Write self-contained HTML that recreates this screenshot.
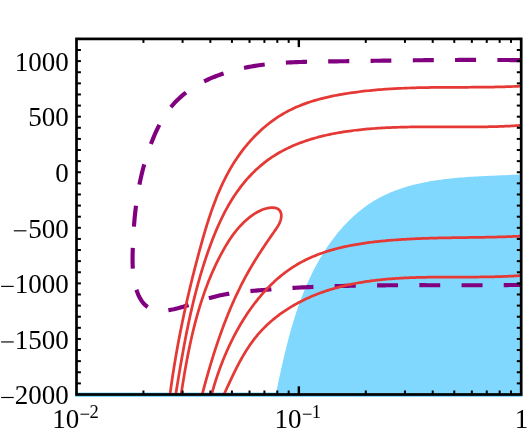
<!DOCTYPE html>
<html><head><meta charset="utf-8"><title>plot</title>
<style>html,body{margin:0;padding:0;background:#fff;width:529px;height:437px;overflow:hidden;font-family:"Liberation Serif",serif;}svg{display:block;position:absolute;left:0;top:0}</style></head>
<body>
<svg width="529" height="437" viewBox="0 0 529 437">
<rect width="529" height="437" fill="#fff"/>
<defs><clipPath id="cp"><rect x="76.50" y="38.90" width="444.70" height="355.60"/></clipPath></defs>
<rect x="75.30" y="392.5" width="447.10" height="4.5" fill="#80D8FF"/>
<g clip-path="url(#cp)">
<path d="M275.71,394.44 L276.19,392.18 L276.66,389.91 L277.14,387.64 L277.63,385.37 L278.11,383.09 L278.60,380.80 L279.09,378.52 L279.59,376.23 L280.09,373.93 L280.59,371.63 L281.10,369.33 L281.61,367.03 L282.13,364.73 L282.66,362.42 L283.19,360.12 L283.73,357.81 L284.27,355.50 L284.83,353.19 L285.39,350.88 L285.95,348.57 L286.53,346.26 L287.12,343.95 L287.71,341.64 L288.32,339.33 L288.93,337.03 L289.56,334.72 L290.19,332.42 L290.84,330.12 L291.49,327.82 L292.16,325.53 L292.84,323.24 L293.54,320.95 L294.24,318.67 L294.96,316.39 L295.70,314.11 L296.44,311.84 L297.20,309.58 L297.98,307.32 L298.77,305.06 L299.58,302.81 L300.40,300.57 L301.23,298.33 L302.09,296.10 L302.96,293.88 L303.84,291.66 L304.75,289.46 L305.67,287.26 L306.61,285.06 L307.57,282.88 L308.55,280.71 L309.55,278.54 L310.56,276.39 L311.60,274.24 L312.66,272.10 L313.73,269.98 L314.83,267.86 L315.95,265.76 L317.09,263.66 L318.26,261.58 L319.44,259.51 L320.65,257.45 L321.88,255.40 L323.14,253.37 L324.42,251.35 L325.72,249.34 L327.05,247.35 L328.40,245.37 L329.77,243.41 L331.17,241.46 L332.59,239.54 L334.04,237.63 L335.51,235.74 L337.00,233.87 L338.52,232.03 L340.06,230.20 L341.62,228.40 L343.21,226.62 L344.82,224.87 L346.45,223.15 L348.11,221.45 L349.79,219.78 L351.49,218.13 L353.22,216.52 L354.97,214.94 L356.74,213.39 L358.53,211.87 L360.35,210.38 L362.19,208.93 L364.05,207.51 L365.94,206.13 L367.85,204.78 L369.78,203.47 L371.73,202.20 L373.71,200.97 L375.71,199.78 L377.73,198.63 L379.77,197.52 L381.83,196.45 L383.91,195.41 L386.02,194.41 L388.14,193.45 L390.28,192.53 L392.44,191.64 L394.61,190.78 L396.80,189.96 L399.01,189.16 L401.24,188.40 L403.47,187.68 L405.73,186.98 L408.00,186.31 L410.28,185.67 L412.57,185.06 L414.87,184.48 L417.19,183.92 L419.52,183.39 L421.85,182.88 L424.20,182.40 L426.56,181.94 L428.92,181.50 L431.29,181.09 L433.67,180.70 L436.06,180.33 L438.45,179.97 L440.85,179.64 L443.26,179.33 L445.66,179.03 L448.07,178.75 L450.49,178.49 L452.91,178.24 L455.33,178.01 L457.75,177.79 L460.17,177.58 L462.59,177.39 L465.01,177.20 L467.43,177.03 L469.85,176.87 L472.27,176.72 L474.68,176.57 L477.09,176.44 L479.50,176.31 L481.90,176.19 L484.30,176.07 L486.69,175.96 L489.08,175.85 L491.46,175.75 L493.83,175.64 L496.19,175.54 L498.54,175.45 L500.89,175.35 L503.23,175.25 L505.55,175.15 L507.87,175.05 L510.17,174.94 L512.46,174.84 L514.74,174.73 L517.00,174.61 L519.25,174.49 L521.49,174.36 L523.71,174.22 L524,397 L275.80,397 Z" fill="#80D8FF"/>
<path d="M524.06,60.21 L522.14,60.18 L520.21,60.16 L518.28,60.13 L516.36,60.11 L514.44,60.09 L512.51,60.07 L510.59,60.06 L508.67,60.04 L506.74,60.02 L504.82,60.01 L502.90,59.99 L500.98,59.98 L499.06,59.97 L497.38,59.96" fill="none" stroke="#800080" stroke-width="4.15"/>
<path d="M476.07,59.91 L474.15,59.91 L472.24,59.91 L470.33,59.91 L468.42,59.92 L466.50,59.92 L464.59,59.93 L462.68,59.93 L460.77,59.94 L458.86,59.94 L456.95,59.95 L455.04,59.96 L455.04,59.96" fill="none" stroke="#800080" stroke-width="4.15"/>
<path d="M433.80,60.10 L431.90,60.12 L429.99,60.13 L428.08,60.15 L426.17,60.17 L424.27,60.19 L422.36,60.20 L420.45,60.22 L418.54,60.24 L416.64,60.26 L414.73,60.28 L412.82,60.31 L412.82,60.31" fill="none" stroke="#800080" stroke-width="4.15"/>
<path d="M391.35,60.57 L389.45,60.59 L387.54,60.62 L385.63,60.64 L383.72,60.67 L381.81,60.69 L379.90,60.72 L377.99,60.74 L376.08,60.77 L374.16,60.80 L372.25,60.82 L370.58,60.85" fill="none" stroke="#800080" stroke-width="4.15"/>
<path d="M349.29,61.15 L347.37,61.17 L345.46,61.20 L343.54,61.23 L341.62,61.25 L339.70,61.28 L337.78,61.31 L335.86,61.33 L333.94,61.36 L332.02,61.38 L330.10,61.41 L328.18,61.44 L328.18,61.44" fill="none" stroke="#800080" stroke-width="4.15"/>
<path d="M307.01,61.79 L305.09,61.84 L303.17,61.89 L301.25,61.95 L299.32,62.01 L297.40,62.08 L295.48,62.16 L293.56,62.24 L291.65,62.33 L289.73,62.42 L287.81,62.53 L285.90,62.64 L285.90,62.64" fill="none" stroke="#800080" stroke-width="4.15"/>
<path d="M264.72,64.52 L262.83,64.76 L260.94,65.01 L259.05,65.27 L257.17,65.55 L255.29,65.84 L253.41,66.15 L251.54,66.47 L249.67,66.81 L247.80,67.16 L245.94,67.53 L244.07,67.91 L244.07,67.91" fill="none" stroke="#800080" stroke-width="4.15"/>
<path d="M223.62,73.42 L221.81,74.04 L220.00,74.67 L218.20,75.33 L216.40,76.01 L214.62,76.72 L212.84,77.44 L211.07,78.19 L209.31,78.96 L207.56,79.76 L205.83,80.58 L204.11,81.42 L204.11,81.42" fill="none" stroke="#800080" stroke-width="4.15"/>
<path d="M186.06,92.54 L184.56,93.71 L183.08,94.90 L181.63,96.12 L180.21,97.37 L178.81,98.65 L177.44,99.96 L176.09,101.29 L174.78,102.66 L173.49,104.06 L172.24,105.49 L171.02,106.95 L170.87,107.14" fill="none" stroke="#800080" stroke-width="4.15"/>
<path d="M159.36,124.93 L158.47,126.67 L157.60,128.42 L156.76,130.18 L155.94,131.95 L155.13,133.73 L154.35,135.52 L153.59,137.32 L152.85,139.12 L152.12,140.93 L151.41,142.74 L150.89,144.10" fill="none" stroke="#800080" stroke-width="4.15"/>
<path d="M144.24,164.35 L143.74,166.18 L143.24,168.01 L142.77,169.85 L142.30,171.68 L141.85,173.52 L141.42,175.36 L140.99,177.20 L140.58,179.04 L140.18,180.89 L139.80,182.73 L139.43,184.58 L139.43,184.58" fill="none" stroke="#800080" stroke-width="4.15"/>
<path d="M136.00,205.79 L135.77,207.67 L135.54,209.56 L135.33,211.44 L135.12,213.33 L134.92,215.22 L134.74,217.12 L134.56,219.02 L134.39,220.92 L134.23,222.83 L134.07,224.74 L133.93,226.65 L133.93,226.65" fill="none" stroke="#800080" stroke-width="4.15"/>
<path d="M132.80,247.91 L132.74,249.87 L132.68,251.83 L132.63,253.79 L132.59,255.75 L132.57,257.71 L132.56,259.68 L132.58,261.64 L132.61,263.60 L132.67,265.55 L132.75,267.50 L132.82,268.72" fill="none" stroke="#800080" stroke-width="4.15"/>
<path d="M136.44,289.73 L137.05,291.53 L137.72,293.31 L138.45,295.07 L139.25,296.78 L140.12,298.43 L141.06,300.01 L142.08,301.52 L143.18,302.93 L144.36,304.23 L145.64,305.42 L147.01,306.48 L147.72,306.95" fill="none" stroke="#800080" stroke-width="4.15"/>
<path d="M168.36,310.14 L170.20,309.88 L172.06,309.57 L173.92,309.20 L175.79,308.78 L177.68,308.32 L179.57,307.81 L181.47,307.27 L183.38,306.70 L185.29,306.10 L187.21,305.48 L188.65,305.00" fill="none" stroke="#800080" stroke-width="4.15"/>
<path d="M208.89,298.21 L210.81,297.66 L212.72,297.14 L214.63,296.65 L216.53,296.19 L218.43,295.75 L220.33,295.34 L222.22,294.95 L224.11,294.58 L226.00,294.24 L227.89,293.91 L229.30,293.68" fill="none" stroke="#800080" stroke-width="4.15"/>
<path d="M250.43,291.12 L252.30,290.94 L254.18,290.77 L256.07,290.60 L257.95,290.43 L259.83,290.26 L261.71,290.10 L263.60,289.95 L265.49,289.79 L267.37,289.64 L269.26,289.49 L271.15,289.35 L271.39,289.33" fill="none" stroke="#800080" stroke-width="4.15"/>
<path d="M292.47,287.94 L294.37,287.83 L296.27,287.73 L298.17,287.63 L300.07,287.53 L301.97,287.43 L303.88,287.34 L305.78,287.25 L307.69,287.16 L309.59,287.07 L311.50,286.99 L313.41,286.91 L313.41,286.91" fill="none" stroke="#800080" stroke-width="4.15"/>
<path d="M334.66,286.16 L336.57,286.11 L338.49,286.06 L340.40,286.01 L342.32,285.96 L344.23,285.91 L346.15,285.87 L348.07,285.83 L349.98,285.78 L351.90,285.75 L353.82,285.71 L355.73,285.67 L355.73,285.67" fill="none" stroke="#800080" stroke-width="4.15"/>
<path d="M377.09,285.38 L379.01,285.36 L380.93,285.34 L382.85,285.33 L384.77,285.31 L386.69,285.30 L388.61,285.28 L390.53,285.27 L392.45,285.26 L394.38,285.25 L396.30,285.24 L397.98,285.24" fill="none" stroke="#800080" stroke-width="4.15"/>
<path d="M419.35,285.19 L421.27,285.19 L423.19,285.19 L425.11,285.19 L427.03,285.20 L428.95,285.20 L430.87,285.20 L432.79,285.20 L434.71,285.20 L436.63,285.20 L438.54,285.21 L440.22,285.21" fill="none" stroke="#800080" stroke-width="4.15"/>
<path d="M461.54,285.23 L463.45,285.23 L465.36,285.23 L467.27,285.23 L469.19,285.23 L471.10,285.23 L473.01,285.22 L474.92,285.22 L476.83,285.22 L478.74,285.22 L480.64,285.21 L482.55,285.21 L482.55,285.21" fill="none" stroke="#800080" stroke-width="4.15"/>
<path d="M503.73,285.10 L505.63,285.08 L507.53,285.06 L509.42,285.04 L511.32,285.02 L513.22,285.00 L515.11,284.98 L517.00,284.96 L518.90,284.93 L520.79,284.90 L522.68,284.88 L523.86,284.86" fill="none" stroke="#800080" stroke-width="4.15"/>
<path d="M169.27,400.16 L169.55,397.96 L169.84,395.78 L170.13,393.59 L170.42,391.41 L170.72,389.23 L171.03,387.05 L171.34,384.88 L171.65,382.71 L171.97,380.54 L172.29,378.38 L172.61,376.22 L172.94,374.06 L173.28,371.90 L173.62,369.75 L173.96,367.60 L174.31,365.45 L174.66,363.30 L175.02,361.16 L175.38,359.02 L175.74,356.88 L176.11,354.75 L176.49,352.61 L176.86,350.48 L177.25,348.35 L177.63,346.22 L178.02,344.10 L178.42,341.97 L178.82,339.85 L179.22,337.73 L179.63,335.61 L180.04,333.49 L180.46,331.38 L180.88,329.26 L181.30,327.15 L181.73,325.04 L182.16,322.93 L182.60,320.82 L183.04,318.71 L183.48,316.60 L183.93,314.49 L184.39,312.39 L184.84,310.29 L185.30,308.18 L185.77,306.08 L186.24,303.98 L186.71,301.88 L187.19,299.78 L187.67,297.68 L188.16,295.58 L188.65,293.48 L189.14,291.38 L189.64,289.28 L190.14,287.18 L190.65,285.08 L191.16,282.99 L191.67,280.89 L192.19,278.79 L192.71,276.69 L193.23,274.59 L193.76,272.49 L194.30,270.40 L194.83,268.30 L195.38,266.20 L195.92,264.10 L196.47,262.00 L197.02,259.90 L197.58,257.79 L198.14,255.69 L198.70,253.59 L199.27,251.48 L199.84,249.38 L200.42,247.27 L201.00,245.17 L201.59,243.06 L202.18,240.95 L202.77,238.85 L203.37,236.74 L203.98,234.64 L204.60,232.54 L205.22,230.44 L205.85,228.34 L206.49,226.24 L207.14,224.15 L207.80,222.06 L208.47,219.97 L209.14,217.89 L209.83,215.81 L210.53,213.74 L211.24,211.67 L211.97,209.61 L212.70,207.55 L213.45,205.50 L214.21,203.45 L214.98,201.42 L215.77,199.38 L216.58,197.36 L217.40,195.34 L218.23,193.34 L219.08,191.34 L219.95,189.34 L220.83,187.36 L221.73,185.39 L222.65,183.43 L223.58,181.47 L224.54,179.53 L225.51,177.60 L226.51,175.68 L227.52,173.77 L228.55,171.87 L229.61,169.98 L230.69,168.11 L231.78,166.25 L232.90,164.40 L234.04,162.57 L235.21,160.75 L236.40,158.94 L237.61,157.15 L238.85,155.38 L240.11,153.62 L241.39,151.87 L242.70,150.15 L244.03,148.44 L245.38,146.75 L246.75,145.07 L248.15,143.42 L249.57,141.79 L251.01,140.18 L252.48,138.58 L253.96,137.01 L255.47,135.47 L257.00,133.94 L258.55,132.44 L260.12,130.96 L261.72,129.51 L263.33,128.08 L264.97,126.68 L266.62,125.31 L268.30,123.96 L270.00,122.64 L271.71,121.35 L273.45,120.08 L275.21,118.85 L276.98,117.65 L278.78,116.47 L280.60,115.33 L282.43,114.22 L284.29,113.14 L286.16,112.10 L288.05,111.08 L289.96,110.10 L291.89,109.16 L293.84,108.24 L295.80,107.36 L297.78,106.50 L299.77,105.68 L301.78,104.88 L303.80,104.12 L305.83,103.38 L307.88,102.66 L309.94,101.98 L312.01,101.31 L314.09,100.68 L316.18,100.06 L318.28,99.47 L320.39,98.90 L322.51,98.36 L324.64,97.83 L326.77,97.33 L328.91,96.84 L331.05,96.38 L333.20,95.93 L335.36,95.50 L337.52,95.09 L339.68,94.69 L341.84,94.31 L344.01,93.95 L346.18,93.59 L348.35,93.26 L350.51,92.93 L352.68,92.62 L354.85,92.32 L357.02,92.03 L359.19,91.75 L361.36,91.48 L363.53,91.23 L365.69,90.98 L367.86,90.75 L370.03,90.52 L372.20,90.31 L374.36,90.11 L376.53,89.91 L378.70,89.73 L380.87,89.55 L383.03,89.39 L385.20,89.23 L387.37,89.08 L389.54,88.94 L391.70,88.81 L393.87,88.68 L396.04,88.56 L398.21,88.45 L400.37,88.35 L402.54,88.25 L404.71,88.16 L406.87,88.08 L409.04,88.00 L411.21,87.93 L413.38,87.86 L415.54,87.80 L417.71,87.74 L419.88,87.69 L422.04,87.64 L424.21,87.60 L426.38,87.56 L428.55,87.52 L430.71,87.49 L432.88,87.46 L435.05,87.44 L437.21,87.42 L439.38,87.40 L441.55,87.38 L443.72,87.36 L445.88,87.35 L448.05,87.34 L450.22,87.32 L452.39,87.31 L454.55,87.31 L456.72,87.30 L458.89,87.29 L461.06,87.28 L463.23,87.27 L465.40,87.27 L467.56,87.26 L469.73,87.25 L471.90,87.24 L474.07,87.22 L476.24,87.21 L478.41,87.19 L480.58,87.18 L482.75,87.16 L484.91,87.13 L487.08,87.11 L489.25,87.08 L491.42,87.05 L493.59,87.01 L495.76,86.97 L497.93,86.93 L500.10,86.88 L502.27,86.83 L504.45,86.78 L506.62,86.72 L508.79,86.65 L510.96,86.58 L513.13,86.50 L515.30,86.41 L517.47,86.32 L519.65,86.23 L521.82,86.12 L523.99,86.01" fill="none" stroke="#E53935" stroke-width="2.75" stroke-linejoin="round"/>
<path d="M174.82,399.99 L175.15,397.98 L175.48,395.96 L175.81,393.95 L176.13,391.94 L176.46,389.93 L176.79,387.92 L177.12,385.91 L177.45,383.90 L177.78,381.90 L178.11,379.89 L178.44,377.89 L178.78,375.88 L179.11,373.88 L179.45,371.88 L179.79,369.88 L180.13,367.88 L180.47,365.88 L180.82,363.89 L181.16,361.89 L181.51,359.90 L181.86,357.91 L182.21,355.91 L182.57,353.92 L182.93,351.93 L183.29,349.94 L183.66,347.96 L184.02,345.97 L184.40,343.98 L184.77,342.00 L185.15,340.02 L185.53,338.03 L185.92,336.05 L186.31,334.07 L186.70,332.09 L187.10,330.12 L187.50,328.14 L187.91,326.16 L188.32,324.19 L188.73,322.21 L189.16,320.24 L189.58,318.27 L190.01,316.30 L190.45,314.33 L190.89,312.36 L191.34,310.39 L191.79,308.43 L192.25,306.46 L192.72,304.50 L193.19,302.53 L193.66,300.57 L194.15,298.61 L194.64,296.65 L195.13,294.69 L195.64,292.73 L196.15,290.77 L196.66,288.81 L197.19,286.86 L197.72,284.90 L198.26,282.95 L198.80,281.00 L199.36,279.05 L199.92,277.09 L200.49,275.15 L201.06,273.20 L201.65,271.25 L202.24,269.30 L202.85,267.36 L203.46,265.41 L204.08,263.47 L204.70,261.52 L205.34,259.58 L205.99,257.64 L206.64,255.70 L207.31,253.76 L207.98,251.82 L208.66,249.88 L209.36,247.95 L210.06,246.01 L210.78,244.08 L211.50,242.15 L212.24,240.22 L212.98,238.29 L213.74,236.37 L214.51,234.46 L215.30,232.55 L216.09,230.64 L216.90,228.74 L217.73,226.85 L218.56,224.96 L219.42,223.08 L220.28,221.21 L221.16,219.35 L222.06,217.49 L222.97,215.65 L223.90,213.81 L224.84,211.99 L225.81,210.17 L226.78,208.37 L227.78,206.58 L228.79,204.80 L229.83,203.04 L230.88,201.29 L231.94,199.55 L233.03,197.83 L234.14,196.12 L235.27,194.42 L236.42,192.75 L237.58,191.09 L238.77,189.44 L239.98,187.81 L241.21,186.21 L242.46,184.62 L243.73,183.04 L245.02,181.49 L246.32,179.96 L247.65,178.45 L249.00,176.96 L250.37,175.49 L251.75,174.04 L253.16,172.62 L254.58,171.22 L256.03,169.84 L257.49,168.49 L258.97,167.16 L260.47,165.85 L261.99,164.58 L263.53,163.32 L265.09,162.10 L266.67,160.90 L268.26,159.73 L269.87,158.59 L271.50,157.48 L273.15,156.39 L274.82,155.33 L276.50,154.29 L278.20,153.28 L279.91,152.30 L281.64,151.34 L283.39,150.40 L285.15,149.50 L286.92,148.61 L288.71,147.75 L290.52,146.91 L292.33,146.10 L294.16,145.31 L296.01,144.54 L297.86,143.79 L299.73,143.07 L301.61,142.36 L303.50,141.68 L305.40,141.02 L307.31,140.38 L309.23,139.76 L311.17,139.15 L313.11,138.57 L315.06,138.01 L317.02,137.47 L318.99,136.94 L320.96,136.43 L322.95,135.95 L324.94,135.47 L326.94,135.02 L328.94,134.58 L330.95,134.16 L332.97,133.75 L335.00,133.36 L337.02,132.99 L339.06,132.63 L341.09,132.29 L343.14,131.95 L345.18,131.64 L347.23,131.34 L349.28,131.05 L351.34,130.77 L353.39,130.51 L355.45,130.26 L357.51,130.02 L359.58,129.79 L361.64,129.57 L363.70,129.37 L365.77,129.17 L367.83,128.99 L369.89,128.82 L371.95,128.65 L374.01,128.50 L376.07,128.35 L378.13,128.21 L380.18,128.08 L382.24,127.96 L384.29,127.85 L386.33,127.74 L388.38,127.64 L390.42,127.55 L392.46,127.47 L394.49,127.39 L396.53,127.31 L398.56,127.25 L400.59,127.19 L402.62,127.13 L404.65,127.08 L406.67,127.04 L408.70,127.00 L410.72,126.96 L412.74,126.93 L414.76,126.91 L416.78,126.88 L418.79,126.87 L420.81,126.85 L422.82,126.84 L424.84,126.83 L426.85,126.82 L428.86,126.82 L430.87,126.82 L432.88,126.82 L434.89,126.82 L436.90,126.83 L438.91,126.83 L440.92,126.84 L442.93,126.85 L444.94,126.85 L446.94,126.86 L448.95,126.87 L450.96,126.88 L452.97,126.89 L454.98,126.90 L456.99,126.90 L459.00,126.91 L461.01,126.92 L463.02,126.92 L465.03,126.92 L467.04,126.92 L469.06,126.92 L471.07,126.91 L473.09,126.91 L475.10,126.90 L477.12,126.88 L479.14,126.87 L481.16,126.85 L483.18,126.82 L485.20,126.80 L487.23,126.76 L489.25,126.73 L491.28,126.68 L493.31,126.64 L495.34,126.59 L497.38,126.53 L499.41,126.47 L501.45,126.40 L503.49,126.32 L505.54,126.24 L507.58,126.15 L509.63,126.06 L511.68,125.96 L513.74,125.85 L515.79,125.73 L517.85,125.61 L519.91,125.47 L521.98,125.33 L524.05,125.18" fill="none" stroke="#E53935" stroke-width="2.75" stroke-linejoin="round"/>
<path d="M180.29,399.94 L180.54,398.28 L180.80,396.61 L181.05,394.95 L181.31,393.28 L181.56,391.61 L181.82,389.94 L182.08,388.27 L182.35,386.60 L182.61,384.93 L182.88,383.25 L183.15,381.58 L183.43,379.91 L183.70,378.23 L183.98,376.56 L184.26,374.89 L184.55,373.21 L184.84,371.54 L185.13,369.86 L185.43,368.19 L185.72,366.51 L186.03,364.84 L186.33,363.16 L186.64,361.49 L186.96,359.81 L187.27,358.14 L187.60,356.46 L187.92,354.79 L188.25,353.12 L188.59,351.45 L188.93,349.78 L189.27,348.11 L189.62,346.44 L189.97,344.77 L190.33,343.10 L190.70,341.43 L191.06,339.77 L191.44,338.11 L191.82,336.44 L192.20,334.78 L192.59,333.12 L192.99,331.46 L193.39,329.80 L193.80,328.15 L194.21,326.49 L194.63,324.84 L195.06,323.19 L195.49,321.54 L195.93,319.90 L196.38,318.25 L196.83,316.61 L197.29,314.97 L197.75,313.33 L198.23,311.69 L198.71,310.06 L199.19,308.43 L199.69,306.80 L200.19,305.17 L200.70,303.55 L201.21,301.92 L201.74,300.31 L202.27,298.69 L202.81,297.08 L203.36,295.47 L203.91,293.86 L204.48,292.25 L205.05,290.65 L205.63,289.05 L206.22,287.46 L206.82,285.87 L207.42,284.28 L208.04,282.69 L208.66,281.11 L209.30,279.53 L209.94,277.96 L210.59,276.39 L211.25,274.82 L211.92,273.26 L212.60,271.70 L213.29,270.14 L213.99,268.59 L214.70,267.05 L215.42,265.50 L216.15,263.96 L216.89,262.43 L217.64,260.90 L218.40,259.37 L219.17,257.85 L219.95,256.34 L220.74,254.82 L221.54,253.32 L222.36,251.81 L223.18,250.32 L224.02,248.83 L224.87,247.35 L225.74,245.88 L226.62,244.42 L227.51,242.96 L228.42,241.52 L229.35,240.09 L230.29,238.68 L231.25,237.28 L232.23,235.89 L233.23,234.52 L234.24,233.16 L235.28,231.83 L236.33,230.51 L237.41,229.20 L238.51,227.92 L239.63,226.66 L240.77,225.42 L241.94,224.21 L243.13,223.01 L244.34,221.84 L245.59,220.70 L246.85,219.58 L248.14,218.49 L249.46,217.42 L250.81,216.38 L252.19,215.37 L253.59,214.40 L255.03,213.45 L256.49,212.56 L257.99,211.71 L259.52,210.92 L261.08,210.19 L262.68,209.54 L264.32,208.96 L265.99,208.47 L267.70,208.08 L269.45,207.79 L271.22,207.62 L272.97,207.61 L274.66,207.78 L276.25,208.16 L277.69,208.80 L278.94,209.72 L279.96,210.94 L280.72,212.42 L281.19,214.06 L281.34,215.80 L281.20,217.56 L280.86,219.30 L280.36,220.98 L279.74,222.58 L279.02,224.12 L278.21,225.61 L277.33,227.06 L276.40,228.48 L275.44,229.88 L274.46,231.28 L273.49,232.67 L272.51,234.06 L271.54,235.46 L270.57,236.86 L269.61,238.26 L268.64,239.66 L267.68,241.07 L266.72,242.48 L265.77,243.89 L264.82,245.30 L263.87,246.71 L262.93,248.13 L262.00,249.55 L261.06,250.97 L260.14,252.40 L259.21,253.83 L258.30,255.26 L257.39,256.69 L256.48,258.13 L255.58,259.58 L254.69,261.02 L253.81,262.47 L252.93,263.93 L252.06,265.38 L251.19,266.85 L250.34,268.31 L249.49,269.78 L248.65,271.26 L247.81,272.74 L246.99,274.22 L246.17,275.71 L245.36,277.20 L244.56,278.69 L243.77,280.19 L242.98,281.70 L242.20,283.20 L241.43,284.71 L240.67,286.23 L239.91,287.75 L239.16,289.27 L238.42,290.80 L237.68,292.33 L236.96,293.86 L236.23,295.40 L235.52,296.94 L234.81,298.48 L234.11,300.03 L233.42,301.58 L232.73,303.13 L232.05,304.69 L231.37,306.25 L230.70,307.81 L230.04,309.37 L229.39,310.94 L228.74,312.51 L228.09,314.09 L227.45,315.66 L226.82,317.24 L226.20,318.83 L225.58,320.41 L224.96,322.00 L224.35,323.59 L223.75,325.18 L223.15,326.77 L222.56,328.37 L221.97,329.97 L221.39,331.57 L220.81,333.17 L220.24,334.77 L219.67,336.38 L219.11,337.99 L218.55,339.60 L218.00,341.21 L217.46,342.83 L216.91,344.44 L216.37,346.06 L215.84,347.68 L215.31,349.30 L214.79,350.92 L214.27,352.54 L213.75,354.17 L213.24,355.79 L212.73,357.42 L212.23,359.05 L211.73,360.68 L211.23,362.31 L210.74,363.94 L210.25,365.57 L209.77,367.20 L209.29,368.84 L208.81,370.47 L208.34,372.11 L207.86,373.74 L207.40,375.38 L206.93,377.02 L206.47,378.65 L206.01,380.29 L205.56,381.93 L205.11,383.57 L204.66,385.21 L204.21,386.85 L203.77,388.49 L203.33,390.13 L202.89,391.77 L202.45,393.41 L202.02,395.04 L201.59,396.68 L201.16,398.32 L200.73,399.96" fill="none" stroke="#E53935" stroke-width="2.75" stroke-linejoin="round"/>
<path d="M210.24,399.79 L210.60,398.39 L210.96,396.99 L211.32,395.58 L211.70,394.17 L212.08,392.76 L212.48,391.34 L212.88,389.93 L213.29,388.51 L213.70,387.08 L214.13,385.66 L214.56,384.23 L215.00,382.80 L215.45,381.37 L215.91,379.94 L216.37,378.51 L216.85,377.07 L217.33,375.64 L217.82,374.20 L218.32,372.77 L218.82,371.33 L219.34,369.90 L219.86,368.46 L220.39,367.02 L220.93,365.59 L221.48,364.15 L222.03,362.72 L222.60,361.28 L223.17,359.85 L223.75,358.42 L224.34,356.99 L224.94,355.56 L225.55,354.14 L226.16,352.71 L226.78,351.29 L227.41,349.87 L228.05,348.45 L228.70,347.04 L229.36,345.63 L230.02,344.22 L230.70,342.81 L231.38,341.41 L232.07,340.01 L232.77,338.62 L233.48,337.23 L234.19,335.84 L234.92,334.46 L235.65,333.08 L236.39,331.71 L237.14,330.34 L237.90,328.97 L238.67,327.62 L239.45,326.26 L240.23,324.92 L241.03,323.57 L241.83,322.24 L242.64,320.91 L243.46,319.58 L244.29,318.27 L245.12,316.96 L245.97,315.65 L246.82,314.36 L247.69,313.07 L248.56,311.79 L249.44,310.51 L250.33,309.24 L251.23,307.98 L252.14,306.73 L253.05,305.49 L253.98,304.26 L254.91,303.03 L255.85,301.81 L256.81,300.60 L257.77,299.41 L258.74,298.22 L259.71,297.03 L260.70,295.86 L261.70,294.70 L262.70,293.55 L263.72,292.41 L264.74,291.28 L265.77,290.16 L266.81,289.05 L267.86,287.95 L268.92,286.87 L269.99,285.79 L271.07,284.72 L272.15,283.67 L273.25,282.63 L274.35,281.60 L275.47,280.58 L276.59,279.58 L277.72,278.59 L278.86,277.61 L280.01,276.64 L281.17,275.68 L282.34,274.74 L283.52,273.82 L284.71,272.90 L285.90,272.00 L287.11,271.12 L288.32,270.24 L289.55,269.38 L290.78,268.54 L292.02,267.71 L293.27,266.90 L294.54,266.10 L295.81,265.32 L297.09,264.55 L298.38,263.79 L299.67,263.06 L300.98,262.33 L302.30,261.63 L303.62,260.93 L304.96,260.26 L306.30,259.60 L307.65,258.95 L309.01,258.32 L310.38,257.70 L311.75,257.09 L313.13,256.50 L314.52,255.92 L315.92,255.36 L317.33,254.81 L318.74,254.27 L320.16,253.75 L321.58,253.23 L323.01,252.73 L324.45,252.25 L325.89,251.77 L327.34,251.31 L328.80,250.86 L330.26,250.42 L331.72,249.99 L333.19,249.57 L334.67,249.17 L336.15,248.77 L337.64,248.39 L339.13,248.01 L340.62,247.65 L342.12,247.30 L343.62,246.95 L345.13,246.62 L346.64,246.29 L348.16,245.98 L349.67,245.67 L351.19,245.38 L352.72,245.09 L354.24,244.81 L355.77,244.54 L357.30,244.28 L358.84,244.02 L360.37,243.78 L361.91,243.54 L363.45,243.31 L364.99,243.09 L366.53,242.87 L368.08,242.66 L369.62,242.46 L371.17,242.26 L372.72,242.07 L374.26,241.89 L375.81,241.71 L377.36,241.54 L378.91,241.38 L380.45,241.22 L382.00,241.06 L383.55,240.91 L385.10,240.77 L386.64,240.63 L388.19,240.49 L389.73,240.36 L391.27,240.24 L392.81,240.11 L394.35,240.00 L395.89,239.88 L397.43,239.77 L398.97,239.67 L400.50,239.56 L402.04,239.47 L403.57,239.37 L405.10,239.28 L406.63,239.19 L408.16,239.11 L409.69,239.03 L411.22,238.95 L412.75,238.87 L414.28,238.80 L415.81,238.73 L417.33,238.67 L418.86,238.60 L420.38,238.54 L421.91,238.48 L423.43,238.43 L424.95,238.37 L426.48,238.32 L428.00,238.28 L429.52,238.23 L431.04,238.18 L432.56,238.14 L434.08,238.10 L435.60,238.06 L437.12,238.03 L438.64,237.99 L440.16,237.96 L441.67,237.92 L443.19,237.89 L444.71,237.86 L446.23,237.83 L447.74,237.81 L449.26,237.78 L450.78,237.76 L452.29,237.73 L453.81,237.71 L455.33,237.68 L456.85,237.66 L458.36,237.64 L459.88,237.62 L461.40,237.60 L462.91,237.58 L464.43,237.56 L465.95,237.54 L467.47,237.52 L468.98,237.49 L470.50,237.47 L472.02,237.45 L473.54,237.43 L475.06,237.41 L476.58,237.39 L478.10,237.37 L479.62,237.34 L481.14,237.32 L482.66,237.29 L484.18,237.27 L485.70,237.24 L487.22,237.21 L488.75,237.18 L490.27,237.15 L491.80,237.12 L493.32,237.09 L494.85,237.05 L496.37,237.01 L497.90,236.98 L499.43,236.94 L500.96,236.89 L502.49,236.85 L504.02,236.80 L505.55,236.76 L507.08,236.71 L508.61,236.65 L510.15,236.60 L511.68,236.54 L513.22,236.48 L514.76,236.42 L516.29,236.35 L517.83,236.28 L519.37,236.21 L520.92,236.14 L522.46,236.06 L524.00,235.98" fill="none" stroke="#E53935" stroke-width="2.75" stroke-linejoin="round"/>
<path d="M221.55,399.78 L222.11,398.58 L222.66,397.37 L223.22,396.16 L223.78,394.94 L224.34,393.72 L224.90,392.49 L225.46,391.26 L226.02,390.03 L226.59,388.79 L227.15,387.55 L227.72,386.31 L228.29,385.07 L228.87,383.82 L229.45,382.58 L230.03,381.33 L230.61,380.08 L231.20,378.83 L231.79,377.58 L232.39,376.33 L232.99,375.08 L233.59,373.83 L234.20,372.59 L234.81,371.34 L235.43,370.09 L236.06,368.85 L236.69,367.61 L237.33,366.37 L237.97,365.14 L238.62,363.90 L239.27,362.67 L239.94,361.45 L240.61,360.23 L241.28,359.01 L241.97,357.80 L242.66,356.59 L243.36,355.39 L244.06,354.19 L244.78,353.00 L245.50,351.81 L246.24,350.63 L246.98,349.46 L247.73,348.30 L248.49,347.14 L249.26,345.99 L250.04,344.84 L250.83,343.71 L251.64,342.59 L252.45,341.47 L253.27,340.36 L254.10,339.26 L254.95,338.18 L255.80,337.10 L256.67,336.03 L257.55,334.97 L258.44,333.93 L259.35,332.89 L260.26,331.87 L261.19,330.85 L262.13,329.85 L263.08,328.86 L264.04,327.88 L265.01,326.91 L265.99,325.95 L266.99,325.00 L267.99,324.07 L269.00,323.14 L270.03,322.23 L271.06,321.32 L272.10,320.43 L273.15,319.55 L274.22,318.67 L275.29,317.81 L276.36,316.96 L277.45,316.12 L278.55,315.29 L279.65,314.47 L280.76,313.67 L281.88,312.87 L283.01,312.08 L284.15,311.30 L285.29,310.54 L286.44,309.78 L287.60,309.04 L288.76,308.30 L289.93,307.58 L291.10,306.87 L292.29,306.16 L293.47,305.47 L294.67,304.79 L295.87,304.12 L297.07,303.45 L298.28,302.80 L299.49,302.16 L300.71,301.53 L301.94,300.91 L303.17,300.30 L304.40,299.70 L305.64,299.11 L306.88,298.53 L308.12,297.96 L309.37,297.40 L310.62,296.85 L311.87,296.31 L313.13,295.78 L314.39,295.26 L315.65,294.75 L316.92,294.25 L318.19,293.76 L319.46,293.27 L320.74,292.80 L322.02,292.34 L323.30,291.88 L324.58,291.44 L325.87,291.00 L327.16,290.58 L328.45,290.16 L329.74,289.75 L331.04,289.35 L332.34,288.96 L333.64,288.57 L334.95,288.20 L336.26,287.83 L337.57,287.47 L338.88,287.12 L340.19,286.78 L341.51,286.45 L342.83,286.12 L344.15,285.80 L345.48,285.49 L346.80,285.18 L348.13,284.89 L349.46,284.60 L350.80,284.32 L352.13,284.04 L353.47,283.77 L354.81,283.51 L356.15,283.26 L357.49,283.01 L358.84,282.77 L360.18,282.54 L361.53,282.31 L362.88,282.09 L364.23,281.87 L365.59,281.66 L366.94,281.46 L368.30,281.27 L369.66,281.08 L371.02,280.89 L372.38,280.71 L373.75,280.54 L375.11,280.37 L376.48,280.21 L377.84,280.05 L379.21,279.90 L380.58,279.76 L381.96,279.62 L383.33,279.48 L384.70,279.35 L386.08,279.22 L387.46,279.10 L388.83,278.99 L390.21,278.87 L391.59,278.77 L392.97,278.66 L394.36,278.56 L395.74,278.47 L397.12,278.38 L398.51,278.29 L399.90,278.21 L401.28,278.13 L402.67,278.06 L404.06,277.99 L405.45,277.92 L406.84,277.85 L408.23,277.79 L409.62,277.74 L411.01,277.68 L412.40,277.63 L413.79,277.58 L415.19,277.54 L416.58,277.49 L417.97,277.45 L419.37,277.42 L420.76,277.38 L422.16,277.35 L423.55,277.32 L424.95,277.29 L426.34,277.27 L427.74,277.24 L429.13,277.22 L430.53,277.20 L431.92,277.19 L433.32,277.17 L434.72,277.15 L436.11,277.14 L437.51,277.13 L438.90,277.12 L440.30,277.11 L441.69,277.10 L443.09,277.10 L444.48,277.09 L445.88,277.09 L447.27,277.08 L448.66,277.08 L450.06,277.08 L451.45,277.08 L452.84,277.07 L454.23,277.07 L455.62,277.07 L457.02,277.07 L458.41,277.07 L459.79,277.07 L461.18,277.07 L462.57,277.07 L463.96,277.07 L465.34,277.06 L466.73,277.06 L468.12,277.06 L469.50,277.05 L470.88,277.05 L472.26,277.05 L473.64,277.04 L475.02,277.03 L476.40,277.02 L477.78,277.01 L479.16,277.00 L480.53,276.99 L481.91,276.98 L483.28,276.96 L484.65,276.94 L486.02,276.92 L487.39,276.90 L488.76,276.88 L490.12,276.85 L491.49,276.83 L492.85,276.80 L494.21,276.77 L495.57,276.73 L496.93,276.69 L498.29,276.65 L499.64,276.61 L501.00,276.57 L502.35,276.52 L503.70,276.47 L505.05,276.42 L506.39,276.36 L507.74,276.30 L509.08,276.23 L510.42,276.17 L511.76,276.10 L513.09,276.02 L514.43,275.94 L515.76,275.86 L517.09,275.78 L518.42,275.69 L519.74,275.59 L521.07,275.49 L522.39,275.39 L523.71,275.28" fill="none" stroke="#E53935" stroke-width="2.75" stroke-linejoin="round"/>
</g>
<line x1="143.43" y1="394.50" x2="143.43" y2="390.50" stroke="#000" stroke-width="2.00"/>
<line x1="143.43" y1="38.90" x2="143.43" y2="42.90" stroke="#000" stroke-width="2.00"/>
<line x1="182.59" y1="394.50" x2="182.59" y2="390.50" stroke="#000" stroke-width="2.00"/>
<line x1="182.59" y1="38.90" x2="182.59" y2="42.90" stroke="#000" stroke-width="2.00"/>
<line x1="210.37" y1="394.50" x2="210.37" y2="390.50" stroke="#000" stroke-width="2.00"/>
<line x1="210.37" y1="38.90" x2="210.37" y2="42.90" stroke="#000" stroke-width="2.00"/>
<line x1="231.92" y1="394.50" x2="231.92" y2="390.50" stroke="#000" stroke-width="2.00"/>
<line x1="231.92" y1="38.90" x2="231.92" y2="42.90" stroke="#000" stroke-width="2.00"/>
<line x1="249.52" y1="394.50" x2="249.52" y2="390.50" stroke="#000" stroke-width="2.00"/>
<line x1="249.52" y1="38.90" x2="249.52" y2="42.90" stroke="#000" stroke-width="2.00"/>
<line x1="264.41" y1="394.50" x2="264.41" y2="390.50" stroke="#000" stroke-width="2.00"/>
<line x1="264.41" y1="38.90" x2="264.41" y2="42.90" stroke="#000" stroke-width="2.00"/>
<line x1="277.30" y1="394.50" x2="277.30" y2="390.50" stroke="#000" stroke-width="2.00"/>
<line x1="277.30" y1="38.90" x2="277.30" y2="42.90" stroke="#000" stroke-width="2.00"/>
<line x1="288.68" y1="394.50" x2="288.68" y2="390.50" stroke="#000" stroke-width="2.00"/>
<line x1="288.68" y1="38.90" x2="288.68" y2="42.90" stroke="#000" stroke-width="2.00"/>
<line x1="298.85" y1="394.50" x2="298.85" y2="386.30" stroke="#000" stroke-width="2.40"/>
<line x1="298.85" y1="38.90" x2="298.85" y2="47.10" stroke="#000" stroke-width="2.40"/>
<line x1="365.78" y1="394.50" x2="365.78" y2="390.50" stroke="#000" stroke-width="2.00"/>
<line x1="365.78" y1="38.90" x2="365.78" y2="42.90" stroke="#000" stroke-width="2.00"/>
<line x1="404.94" y1="394.50" x2="404.94" y2="390.50" stroke="#000" stroke-width="2.00"/>
<line x1="404.94" y1="38.90" x2="404.94" y2="42.90" stroke="#000" stroke-width="2.00"/>
<line x1="432.72" y1="394.50" x2="432.72" y2="390.50" stroke="#000" stroke-width="2.00"/>
<line x1="432.72" y1="38.90" x2="432.72" y2="42.90" stroke="#000" stroke-width="2.00"/>
<line x1="454.27" y1="394.50" x2="454.27" y2="390.50" stroke="#000" stroke-width="2.00"/>
<line x1="454.27" y1="38.90" x2="454.27" y2="42.90" stroke="#000" stroke-width="2.00"/>
<line x1="471.87" y1="394.50" x2="471.87" y2="390.50" stroke="#000" stroke-width="2.00"/>
<line x1="471.87" y1="38.90" x2="471.87" y2="42.90" stroke="#000" stroke-width="2.00"/>
<line x1="486.76" y1="394.50" x2="486.76" y2="390.50" stroke="#000" stroke-width="2.00"/>
<line x1="486.76" y1="38.90" x2="486.76" y2="42.90" stroke="#000" stroke-width="2.00"/>
<line x1="499.65" y1="394.50" x2="499.65" y2="390.50" stroke="#000" stroke-width="2.00"/>
<line x1="499.65" y1="38.90" x2="499.65" y2="42.90" stroke="#000" stroke-width="2.00"/>
<line x1="511.03" y1="394.50" x2="511.03" y2="390.50" stroke="#000" stroke-width="2.00"/>
<line x1="511.03" y1="38.90" x2="511.03" y2="42.90" stroke="#000" stroke-width="2.00"/>
<line x1="76.50" y1="383.39" x2="80.90" y2="383.39" stroke="#000" stroke-width="2.00"/>
<line x1="521.20" y1="383.39" x2="516.80" y2="383.39" stroke="#000" stroke-width="2.00"/>
<line x1="76.50" y1="372.27" x2="80.90" y2="372.27" stroke="#000" stroke-width="2.00"/>
<line x1="521.20" y1="372.27" x2="516.80" y2="372.27" stroke="#000" stroke-width="2.00"/>
<line x1="76.50" y1="361.16" x2="80.90" y2="361.16" stroke="#000" stroke-width="2.00"/>
<line x1="521.20" y1="361.16" x2="516.80" y2="361.16" stroke="#000" stroke-width="2.00"/>
<line x1="76.50" y1="350.05" x2="80.90" y2="350.05" stroke="#000" stroke-width="2.00"/>
<line x1="521.20" y1="350.05" x2="516.80" y2="350.05" stroke="#000" stroke-width="2.00"/>
<line x1="76.50" y1="338.94" x2="80.90" y2="338.94" stroke="#000" stroke-width="2.00"/>
<line x1="521.20" y1="338.94" x2="516.80" y2="338.94" stroke="#000" stroke-width="2.00"/>
<line x1="76.50" y1="327.82" x2="80.90" y2="327.82" stroke="#000" stroke-width="2.00"/>
<line x1="521.20" y1="327.82" x2="516.80" y2="327.82" stroke="#000" stroke-width="2.00"/>
<line x1="76.50" y1="316.71" x2="80.90" y2="316.71" stroke="#000" stroke-width="2.00"/>
<line x1="521.20" y1="316.71" x2="516.80" y2="316.71" stroke="#000" stroke-width="2.00"/>
<line x1="76.50" y1="305.60" x2="80.90" y2="305.60" stroke="#000" stroke-width="2.00"/>
<line x1="521.20" y1="305.60" x2="516.80" y2="305.60" stroke="#000" stroke-width="2.00"/>
<line x1="76.50" y1="294.49" x2="80.90" y2="294.49" stroke="#000" stroke-width="2.00"/>
<line x1="521.20" y1="294.49" x2="516.80" y2="294.49" stroke="#000" stroke-width="2.00"/>
<line x1="76.50" y1="283.38" x2="80.90" y2="283.38" stroke="#000" stroke-width="2.00"/>
<line x1="521.20" y1="283.38" x2="516.80" y2="283.38" stroke="#000" stroke-width="2.00"/>
<line x1="76.50" y1="272.26" x2="80.90" y2="272.26" stroke="#000" stroke-width="2.00"/>
<line x1="521.20" y1="272.26" x2="516.80" y2="272.26" stroke="#000" stroke-width="2.00"/>
<line x1="76.50" y1="261.15" x2="80.90" y2="261.15" stroke="#000" stroke-width="2.00"/>
<line x1="521.20" y1="261.15" x2="516.80" y2="261.15" stroke="#000" stroke-width="2.00"/>
<line x1="76.50" y1="250.04" x2="80.90" y2="250.04" stroke="#000" stroke-width="2.00"/>
<line x1="521.20" y1="250.04" x2="516.80" y2="250.04" stroke="#000" stroke-width="2.00"/>
<line x1="76.50" y1="238.93" x2="80.90" y2="238.93" stroke="#000" stroke-width="2.00"/>
<line x1="521.20" y1="238.93" x2="516.80" y2="238.93" stroke="#000" stroke-width="2.00"/>
<line x1="76.50" y1="227.81" x2="80.90" y2="227.81" stroke="#000" stroke-width="2.00"/>
<line x1="521.20" y1="227.81" x2="516.80" y2="227.81" stroke="#000" stroke-width="2.00"/>
<line x1="76.50" y1="216.70" x2="80.90" y2="216.70" stroke="#000" stroke-width="2.00"/>
<line x1="521.20" y1="216.70" x2="516.80" y2="216.70" stroke="#000" stroke-width="2.00"/>
<line x1="76.50" y1="205.59" x2="80.90" y2="205.59" stroke="#000" stroke-width="2.00"/>
<line x1="521.20" y1="205.59" x2="516.80" y2="205.59" stroke="#000" stroke-width="2.00"/>
<line x1="76.50" y1="194.48" x2="80.90" y2="194.48" stroke="#000" stroke-width="2.00"/>
<line x1="521.20" y1="194.48" x2="516.80" y2="194.48" stroke="#000" stroke-width="2.00"/>
<line x1="76.50" y1="183.36" x2="80.90" y2="183.36" stroke="#000" stroke-width="2.00"/>
<line x1="521.20" y1="183.36" x2="516.80" y2="183.36" stroke="#000" stroke-width="2.00"/>
<line x1="76.50" y1="172.25" x2="80.90" y2="172.25" stroke="#000" stroke-width="2.00"/>
<line x1="521.20" y1="172.25" x2="516.80" y2="172.25" stroke="#000" stroke-width="2.00"/>
<line x1="76.50" y1="161.14" x2="80.90" y2="161.14" stroke="#000" stroke-width="2.00"/>
<line x1="521.20" y1="161.14" x2="516.80" y2="161.14" stroke="#000" stroke-width="2.00"/>
<line x1="76.50" y1="150.03" x2="80.90" y2="150.03" stroke="#000" stroke-width="2.00"/>
<line x1="521.20" y1="150.03" x2="516.80" y2="150.03" stroke="#000" stroke-width="2.00"/>
<line x1="76.50" y1="138.91" x2="80.90" y2="138.91" stroke="#000" stroke-width="2.00"/>
<line x1="521.20" y1="138.91" x2="516.80" y2="138.91" stroke="#000" stroke-width="2.00"/>
<line x1="76.50" y1="127.80" x2="80.90" y2="127.80" stroke="#000" stroke-width="2.00"/>
<line x1="521.20" y1="127.80" x2="516.80" y2="127.80" stroke="#000" stroke-width="2.00"/>
<line x1="76.50" y1="116.69" x2="80.90" y2="116.69" stroke="#000" stroke-width="2.00"/>
<line x1="521.20" y1="116.69" x2="516.80" y2="116.69" stroke="#000" stroke-width="2.00"/>
<line x1="76.50" y1="105.57" x2="80.90" y2="105.57" stroke="#000" stroke-width="2.00"/>
<line x1="521.20" y1="105.57" x2="516.80" y2="105.57" stroke="#000" stroke-width="2.00"/>
<line x1="76.50" y1="94.46" x2="80.90" y2="94.46" stroke="#000" stroke-width="2.00"/>
<line x1="521.20" y1="94.46" x2="516.80" y2="94.46" stroke="#000" stroke-width="2.00"/>
<line x1="76.50" y1="83.35" x2="80.90" y2="83.35" stroke="#000" stroke-width="2.00"/>
<line x1="521.20" y1="83.35" x2="516.80" y2="83.35" stroke="#000" stroke-width="2.00"/>
<line x1="76.50" y1="72.24" x2="80.90" y2="72.24" stroke="#000" stroke-width="2.00"/>
<line x1="521.20" y1="72.24" x2="516.80" y2="72.24" stroke="#000" stroke-width="2.00"/>
<line x1="76.50" y1="61.12" x2="80.90" y2="61.12" stroke="#000" stroke-width="2.00"/>
<line x1="521.20" y1="61.12" x2="516.80" y2="61.12" stroke="#000" stroke-width="2.00"/>
<line x1="76.50" y1="50.01" x2="80.90" y2="50.01" stroke="#000" stroke-width="2.00"/>
<line x1="521.20" y1="50.01" x2="516.80" y2="50.01" stroke="#000" stroke-width="2.00"/>
<line x1="76.50" y1="38.90" x2="80.90" y2="38.90" stroke="#000" stroke-width="2.00"/>
<line x1="521.20" y1="38.90" x2="516.80" y2="38.90" stroke="#000" stroke-width="2.00"/>
<rect x="76.50" y="38.90" width="444.70" height="355.60" fill="none" stroke="#000" stroke-width="2.7"/>
<defs><filter id="gf" x="0" y="0" width="529" height="437" filterUnits="userSpaceOnUse"><feOffset dx="0" dy="0"/></filter></defs>
<g filter="url(#gf)">
<text x="68.70" y="70.83" text-anchor="end" font-family="Liberation Serif, serif" font-size="27.00" fill="#000">1000</text>
<text x="68.70" y="126.39" text-anchor="end" font-family="Liberation Serif, serif" font-size="27.00" fill="#000">500</text>
<text x="68.70" y="181.95" text-anchor="end" font-family="Liberation Serif, serif" font-size="27.00" fill="#000">0</text>
<text x="68.70" y="237.51" text-anchor="end" font-family="Liberation Serif, serif" font-size="27.00" fill="#000">500</text>
<line x1="13.85" y1="230.81" x2="26.45" y2="230.81" stroke="#000" stroke-width="1.15"/>
<text x="68.70" y="293.07" text-anchor="end" font-family="Liberation Serif, serif" font-size="27.00" fill="#000">1000</text>
<line x1="1.10" y1="286.38" x2="13.70" y2="286.38" stroke="#000" stroke-width="1.15"/>
<text x="68.70" y="348.64" text-anchor="end" font-family="Liberation Serif, serif" font-size="27.00" fill="#000">1500</text>
<line x1="1.10" y1="341.94" x2="13.70" y2="341.94" stroke="#000" stroke-width="1.15"/>
<text x="68.70" y="404.20" text-anchor="end" font-family="Liberation Serif, serif" font-size="27.00" fill="#000">2000</text>
<line x1="1.10" y1="397.50" x2="13.70" y2="397.50" stroke="#000" stroke-width="1.15"/>
<text x="52.20" y="428.10" text-anchor="start" font-family="Liberation Serif, serif" font-size="27.00" fill="#000">10</text>
<line x1="80.50" y1="414.20" x2="89.20" y2="414.20" stroke="#000" stroke-width="1.00"/>
<text x="89.50" y="418.00" text-anchor="start" font-family="Liberation Serif, serif" font-size="18.50" fill="#000">2</text>
<text x="274.55" y="428.10" text-anchor="start" font-family="Liberation Serif, serif" font-size="27.00" fill="#000">10</text>
<line x1="302.85" y1="414.20" x2="311.55" y2="414.20" stroke="#000" stroke-width="1.00"/>
<text x="311.85" y="418.00" text-anchor="start" font-family="Liberation Serif, serif" font-size="18.50" fill="#000">1</text>
<text x="521.40" y="428.10" text-anchor="middle" font-family="Liberation Serif, serif" font-size="27.00" fill="#000">1</text>
</g>
</svg>
</body></html>
